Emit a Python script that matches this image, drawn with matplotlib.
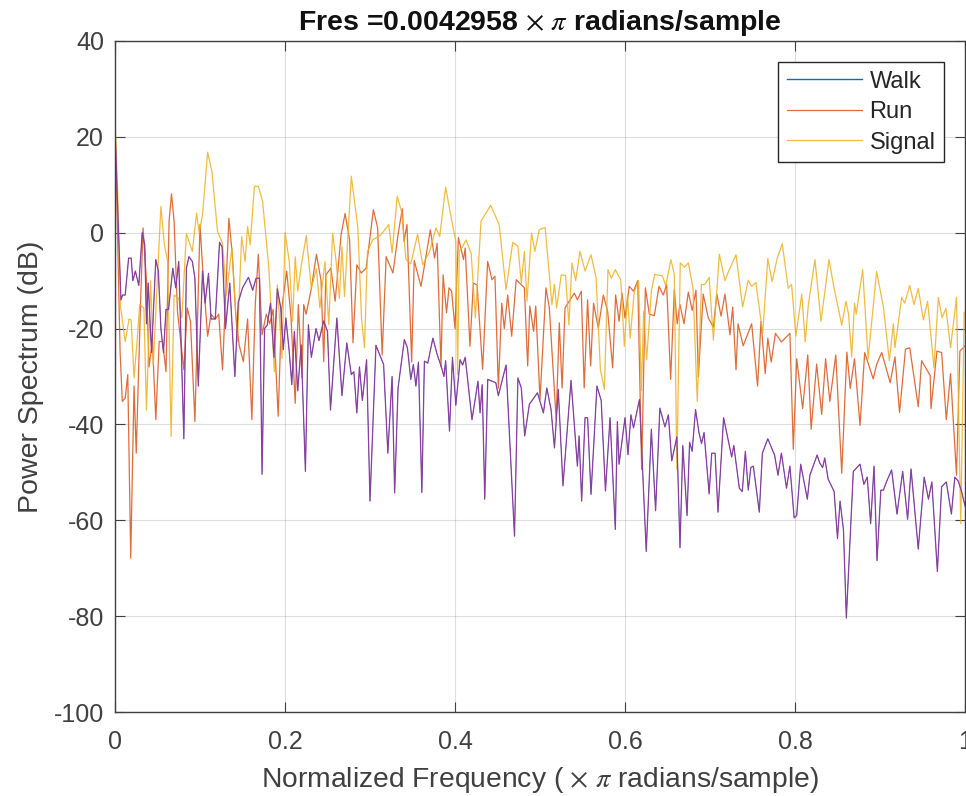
import matplotlib
matplotlib.use("Agg")
import matplotlib.pyplot as plt

# values (normalized frequency, dB)
walk_f = [0, .003, .005, .007, .009, .012, .016, .019, .021, .024, .028, .032, .035, .037, .039, .043, .048, .051, .054, .057, .060, .063, .068, .0715, .075, .081, .084, .087, .091, .094, .098, .103, .106, .11, .113, .118, .123, .126, .130, .135, .141, .145, .150, .157, .162, .166, .170, .173, .176, .179, .183, .187, .191, .195, .198, .201, .205, .208, .211, .215, .219, .224, .2275, .231, .2365, .24, .2455, .25, .2535, .261, .267, .2727, .278, .281, .2845, .2876, .291, .296, .300, .307, .316, .321, .326, .329, .333,
          .3404, .344, .348, .351, .354, .357, .361, .364, .368, .374, .379, .384, .387, .389, .3935, .397, .401, .406, .409, .412, .42, .427, .4295, .432, .435, .4385, .448, .451, .46, .47, .474, .478, .482, .4875, .497, .504, .508, .513, .517, .5215, .527, .5365, .544, .546, .549, .553, .556, .56, .567, .572, .577, .5824, .5886, .591, .593, .6, .6035, .607, .61, .617, .625, .631, .636, .641, .647, .651, .655, .661, .6647,
          .668, .673, .676, .679, .683, .687, .69, .693, .699, .702, .706, .7094, .716, .7255, .728, .7345, .738, .7416, .745, .748, .751, .758, .7616, .768, .776, .78, .784, .79, .794, .799, .802, .8067, .8145, .8175, .826, .829, .8325, .835, .839, .846, .85, .853, .857, .8604, .8686, .8765, .881, .885, .889, .893, .8965, .901, .904, .908, .9137, .92, .9267, .9325, .9365, .945, .952, .957, .961, .9675, .9725, .978, .984, .988, .992, .996, 1.0]
walk_db = [21.8, 5.8, -3.9, -14, -13, -13, -5.3, -5.3, -10, -8, -11, 0, -2.5, -19, -10.5, -25, -5.6, -8, -20, -25, -16, -16, -7.4, -11.5, -6, -43, -7.4, -5, -6, -9.5, -32, -8, -14.7, -8.5, -18, -18, -2, -3, -20, -10.5, -30, -14.5, -11.5, -9.3, -12, -9.5, -9.5, -50.4, -20, -19.3, -14.7, -26, -11.7, -15.7, -24.4, -17.8, -24.8, -31.7, -20.6, -33, -23.4, -49.8, -19.2, -26, -20, -22.5, -18.4, -20.6, -37, -17.8, -34, -23, -29.6, -29, -37.6, -28, -35, -26.5, -56, -23.5, -27.5, -46, -30, -54.3, -32.4,
           -22.3, -24, -30.6, -27.5, -32, -27, -54.2, -26.8, -27.2, -22, -25.4, -28, -30, -26.7, -41.4, -26, -36, -26.5, -27.6, -26, -39, -31, -37.6, -31.7, -55.6, -30.6, -31.3, -34, -27.6, -63.3, -30.3, -32.4, -42.4, -35.8, -33.4, -37.6, -32.4, -36.9, -44.9, -32.7, -52.8, -30.8, -48.7, -42.4, -56, -38.6, -38.6, -54.6, -32, -35, -53.9, -38.6, -61.9, -39.4, -48.3, -38.6, -46.3, -38, -40.7, -34.8, -66.5, -41, -58, -36.6, -40.5, -38, -47.6, -42.6, -65.7,
           -44.4, -59, -43.7, -45.6, -36.9, -41.7, -44, -41.7, -54.5, -46, -46, -58.3, -38.6, -46.8, -44.4, -53.3, -54, -45.6, -53.7, -49, -48.7, -58.3, -46, -43, -46.4, -50.6, -46, -53.3, -48.7, -59.5, -59, -48.3, -55.6, -50.6, -46.4, -48, -49, -47, -51.4, -54, -63.8, -56, -62, -80.4, -49.8, -48.3, -52.5, -51, -60.7, -48.7, -68.4, -53.7, -53.7, -51.8, -49.5, -58.7, -49.8, -59.8, -49.3, -66, -51, -55.6, -52, -70.7, -53, -52, -58.7, -51, -51.8, -54, -57]

run_f = [0, .002, .006, .0086, .012, .015, .0185, .0224, .025, .03, .033, .037, .04, .044, .048, .052, .056, .06, .0636, .0665, .0695, .0735, .081, .085, .0888, .094, .1, .104, .109, .113, .118, .122, .1265, .134, .138, .142, .146, .151, .156, .161, .165, .1686, .173, .178, .182, .186, .192, .196, .202, .207, .212, .2157, .22, .222, .2248, .2306, .237, .2424, .2456, .248, .254, .259, .266, .2707, .276, .28, .2845, .2896, .2955, .304, .309, .3143, .319, .327, .333, .338,
         .34, .3435, .349, .352, .36, .371, .376, .379, .3835, .386, .39, .393, .396, .40, .404, .41, .412, .4176, .4216, .426, .4325, .4384, .4435, .447, .451, .455, .458, .462, .4667, .472, .4816, .4855, .488, .4925, .495, .5, .507, .511, .519, .5227, .526, .5294, .5404, .544, .5486, .552, .556, .5596, .563, .5686, .5745, .5796, .5855, .589, .593, .5965, .6, .605, .61, .615, .6196, .624, .6286, .6345, .64, .645, .649, .6537, .658, .6614, .6647,
         .6694, .6745, .679, .6835, .6863, .692, .698, .704, .708, .713, .7176, .7235, .7267, .7306, .733, .739, .749, .756, .76, .765, .768, .772, .777, .784, .794, .798, .802, .809, .815, .819, .8255, .8314, .836, .841, .848, .855, .861, .865, .87, .8765, .882, .892, .896, .902, .912, .9176, .923, .93, .935, .945, .949, .959, .96, .967, .9725, .978, .983, .99, .994, 1.0]
run_db = [21, 8, -25, -35.2, -34.5, -29.6, -67.9, -32, -46, -15, 1, -10, -28, -22.7, -39, -22.7, -22.7, -29, 2.4, 8.1, 2.4, -16.4, -28.6, -15.7, -18.5, -39.4, 1.7, -10, -21.6, -17, -18, -17, -28.6, 3, -4.5, -17, -23.4, -26.9, -18, -39, -15, -4.5, -21.3, -17, -19, -16, -38.3, -16, -8, -17.5, -35.6, -15, -30.3, -15, -17, -12, -4.5, -10, -26.9, -8.8, -7.4, -14.3, -0.4, 4, -1.5, -23, -6.7, -8.4, -7.4, 4.8, 1, -25.5, -5, -8.4, -0.4, 5,
          -1.8, 1.7, -27, -5.8, -11.2, 0.6, -5.3, -2.2, -28, -8.8, -16.7, -11.5, -12.2, -20, -1, -5.6, -3.2, -23.7, -10.5, -10.9, -28.5, -6, -9.8, -9.1, -32.4, -14.7, -20, -13, -21.6, -9.8, -11.5, -27.8, -15.3, -20.6, -15.3, -34.8, -11.5, -15.7, -39, -18.8, -32.4, -15.7, -12.6, -14, -12.2, -32.4, -14, -27.8, -14.7, -19.9, -13, -16.4, -28.2, -13, -18.5, -12.6, -17.8, -11.2, -12.2, -10, -49.4, -11.5, -17, -17.3, -11.2, -13, -10.8, -30.6, -11.9, -19, -15,
          -19, -12.4, -16.2, -12, -30, -12.8, -17.8, -19.7, -12.8, -17.4, -12.8, -21.3, -15.5, -28.6, -19, -23.6, -19, -32, -18.5, -29.4, -22, -27, -21, -22.8, -21, -45.2, -26.3, -36.7, -25.5, -41, -27.4, -37.9, -26.3, -35.2, -25.5, -50.2, -24.9, -32.5, -26.3, -40.2, -25, -30.5, -27.5, -25, -31.3, -25.9, -37.5, -24.3, -24, -36.3, -26.7, -29.8, -36.7, -24.7, -25, -39, -29.4, -50.6, -24.7, -23.6]

signal_f = [0, .003, .0067, .012, .0165, .019, .0224, .0263, .029, .034, .037, .042, .045, .054, .058, .062, .066, .0695, .075, .0786, .084, .091, .096, .099, .103, .109, .114, .1206, .1265, .131, .1375, .144, .149, .153, .156, .159, .164, .1686, .1737, .181, .1875, .191, .1965, .2, .205, .209, .212, .215, .219, .225, .231, .237, .241, .247, .2515, .256, .26, .264, .267, .27, .278, .2857, .29, .2935, .297, .303, .313, .322, .326, .332, .337, .3424,
            .348, .356, .362, .366, .37, .3776, .382, .389, .397, .401, .403, .405, .409, .413, .419, .424, .4306, .442, .452, .46, .468, .474, .478, .4816, .4847, .49, .494, .499, .506, .511, .514, .517, .5196, .525, .53, .534, .5376, .542, .547, .553, .56, .566, .571, .5757, .58, .584, .5886, .595, .5992, .603, .606, .611, .616, .6192, .622, .6255, .631, .635, .644, .648, .654, .658, .661, .665, .67,
            .6745, .68, .685, .69, .694, .699, .704, .711, .7176, .722, .7306, .7384, .745, .749, .754, .762, .768, .773, .779, .785, .792, .796, .801, .808, .812, .8157, .8235, .8306, .84, .846, .855, .86, .863, .8667, .87, .872, .8796, .886, .896, .904, .911, .9157, .9176, .9255, .929, .935, .94, .945, .951, .956, .9635, .9686, .973, .9776, .983, .99, .995, .999, 1.0]
signal_db = [23.6, 9.3, -15.7, -22.7, -18, -18.2, -30.3, -22, -15, -15.7, -37, -10, -27.5, 5.5, -2.5, -6, -42.5, -13, -13.7, -17.8, -0.2, -3.9, 4.1, 0, 3.8, 16.8, 12.8, 0.3, -2.2, -13, -3.2, -22.7, -0.8, -6, 1.3, -2.5, 9.7, 9.7, 6.5, -7.4, -29, -10.9, -26.2, 0.1, -6, -18.5, -5, -12.2, -7, -0.6, -11.6, -7.5, -15.7, -6, -19.2, -0.1, -5.7, -13.7, -2.9, -13.3, 11.8, 1, -17.8, -24, -4, -1.5, -0.4, 1.7, -4.2, 7.6, 4.5, -5.6,
             -6.5, -0.3, -6.7, -5.3, -4, 1, -0.8, 9.5, 1.7, -1.8, -29.6, -3.9, -2.9, -1.5, -4.3, -17.8, 2.4, 5.7, 1.7, -11.9, -2, -2.8, -10.5, -3.9, -14.3, -0.1, -3.9, 0.6, 1.1, -8.8, -15, -10.8, -15.7, -8.8, -8.9, -19.2, -6.3, -10, -3.9, -8, -4.6, -9.4, -28.5, -32.7, -7.7, -9.5, -7.7, -9.8, -23.7, -13, -22, -12.2, -10, -33, -16.4, -26.5, -12.2, -8.7, -9, -11.1, -5.6, -8.7, -49.4, -6.3, -7.2,
             -6.3, -11.6, -35.2, -10.8, -10.8, -9.3, -22.4, -4.5, -10, -8, -4.6, -15.5, -9.9, -11.2, -10.4, -21, -5.4, -10.2, -5.4, -2.3, -11.6, -10.8, -21.6, -12.8, -22.8, -15, -5.6, -18.5, -5.6, -11.6, -19.3, -14.3, -17, -25.9, -14.7, -17, -7.7, -26.3, -8.1, -15.5, -26.7, -19, -24, -13.5, -14.7, -11, -15, -11.6, -18.2, -14.3, -28.2, -13.5, -17.7, -15.8, -24, -13.5, -60.7, -16.6, -16.6]

xticks = [0, 0.2, 0.4, 0.6, 0.8, 1]
xtick_labels = ["0", "0.2", "0.4", "0.6", "0.8", "1"]
yticks = list(range(-100, 41, 20))

plt.rcParams["font.family"] = ["Liberation Sans", "DejaVu Sans"]
plt.rcParams["mathtext.fontset"] = "stix"
plt.rcParams["axes.unicode_minus"] = False

fig = plt.figure(figsize=(9.66, 7.96), dpi=100)
ax = fig.add_axes([115 / 966, 1 - 712 / 796, 850 / 966, 671 / 796])

lw = 0.9
ax.plot(walk_f, walk_db, color="#0072BD", linewidth=0.3, label="Walk")
ax.plot(run_f, run_db, color="#D95319", linewidth=lw, alpha=0.85, label="Run")
ax.plot(signal_f, signal_db, color="#EDB120", linewidth=lw, alpha=0.85, label="Signal")
# fourth trace sits on top of Walk and has no legend entry
ax.plot(walk_f, walk_db, color="#8A3FA0", linewidth=lw)

ax.set_xlim(0, 1)
ax.set_ylim(-100, 40)
ax.set_xticks(xticks)
ax.set_xticklabels(xtick_labels)
ax.set_yticks(yticks)
ax.grid(True, color="#262626", alpha=0.15, linewidth=0.8)
ax.set_axisbelow(True)
ax.tick_params(direction="in", length=7, width=0.8, color="#404040", labelcolor="#404040",
               labelsize=18, top=True, right=True, pad=13)
ax.tick_params(axis="y", pad=8)
for side in ax.spines.values():
    side.set_color("#404040")
    side.set_linewidth(1.0)

ax.set_xlabel(r"Normalized Frequency ($\,\times\,\pi$ radians/sample)", fontsize=20.3, color="#404040", labelpad=8)
ax.set_ylabel("Power Spectrum (dB)", fontsize=20.5, color="#404040", labelpad=7)
ax.set_title(r"Fres =0.0042958$\,\times\,\pi$ radians/sample", fontsize=20.5, fontweight="bold", color="#111111", pad=8)

leg = ax.legend(loc="upper right", bbox_to_anchor=((944 - 115) / 850, (712 - 62) / 671), borderaxespad=0,
                fancybox=False, framealpha=1, edgecolor="#262626", fontsize=17, handlelength=3.2,
                labelspacing=0.36, borderpad=0.36, handletextpad=0.3, labelcolor="#262626")
leg.get_lines()[0].set_linewidth(1.0)

plt.savefig("out.png", dpi=100)
plt.close()
